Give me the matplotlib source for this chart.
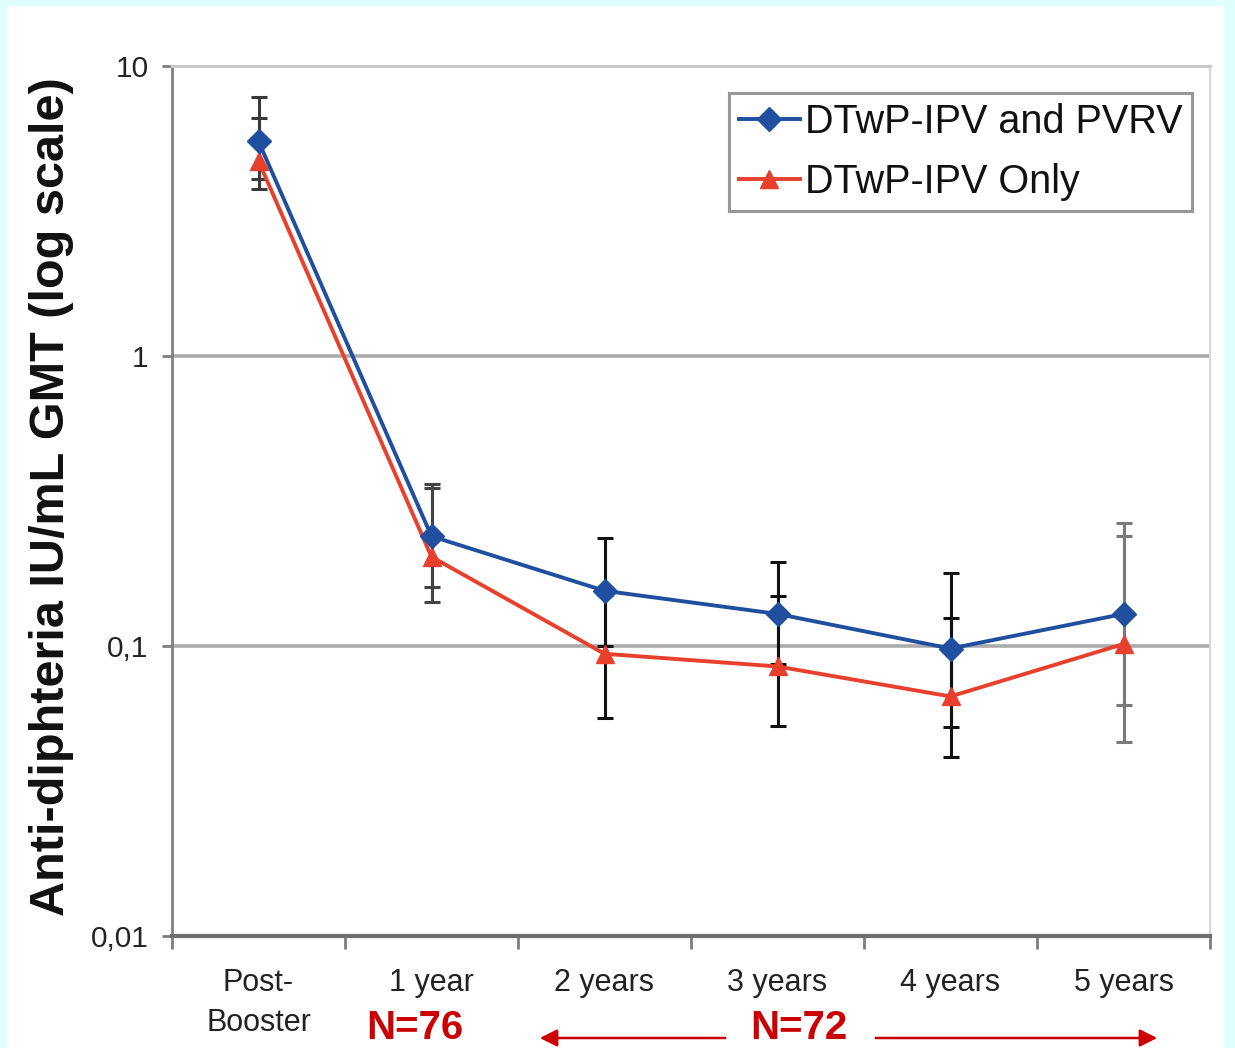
import matplotlib
matplotlib.use("Agg")
import matplotlib.pyplot as plt
from matplotlib.patches import Rectangle, FancyArrowPatch
from matplotlib.ticker import FixedLocator, FixedFormatter, NullLocator
import numpy as np

categories = ["Post-\nBooster", "1 year", "2 years", "3 years", "4 years", "5 years"]
series_names = ["DTwP-IPV and PVRV", "DTwP-IPV Only"]
pvrv_gmt = [5.5, 0.239, 0.155, 0.129, 0.098, 0.129]
pvrv_upper = [7.8, 0.362, 0.236, 0.195, 0.179, 0.265]
pvrv_lower = [4.07, 0.160, 0.100, 0.087, 0.0526, 0.0626]
only_gmt = [4.7, 0.203, 0.094, 0.085, 0.067, 0.1016]
only_upper = [6.6, 0.350, 0.150, 0.149, 0.125, 0.239]
only_lower = [3.77, 0.142, 0.0565, 0.053, 0.0414, 0.0467]
yticks = [0.01, 0.1, 1, 10]
ytick_labels = ["0,01", "0,1", "1", "10"]
n_labels = ["N=76", "N=72"]

W, H = 1235, 1048
fig = plt.figure(figsize=(W / 100, H / 100), dpi=100, facecolor="#DFFEFE")
fig.patches.append(Rectangle((7 / W, 0), (1224 - 7) / W, 1 - 6 / H,
                             transform=fig.transFigure, facecolor="white",
                             edgecolor="none", zorder=-10))

regular = ["Liberation Sans", "DejaVu Sans"]

ax = fig.add_axes([172 / W, 1 - 936 / H, (1210 - 172) / W, (936 - 66) / H])
ax.set_facecolor("none")
ax.set_yscale("log")
ax.set_ylim(0.01, 10)
ax.set_xlim(-0.5, len(categories) - 0.5)

x = np.arange(len(categories))

for v in yticks[1:3]:
    ax.axhline(v, color="#ABABAB", lw=2.6, zorder=1)

ecols = ["#3a3a3a", "#444444", "#111111", "#111111", "#111111", "#7a7a7a"]
for gmt, lo, hi in [(pvrv_gmt, pvrv_lower, pvrv_upper), (only_gmt, only_lower, only_upper)]:
    g = np.array(gmt); l = np.array(lo); h = np.array(hi)
    for i in range(len(x)):
        ax.errorbar([x[i]], [g[i]], yerr=[[g[i] - l[i]], [h[i] - g[i]]], fmt="none",
                    ecolor=ecols[i], elinewidth=2.2, capsize=5.5, capthick=2.2, zorder=2)

blue = "#1F4F9E"
red = "#E8402C"
ax.plot(x, pvrv_gmt, color=blue, lw=2.8, marker="D", ms=12, mfc=blue, mec=blue,
        label=series_names[0], zorder=4)
ax.plot(x, only_gmt, color=red, lw=2.8, marker="^", ms=13, mfc=red, mec=red,
        label=series_names[1], zorder=3)

ax.spines["top"].set_color("#C8C8C8"); ax.spines["top"].set_linewidth(2.2)
ax.spines["right"].set_color("#D8D8D8"); ax.spines["right"].set_linewidth(1.5)
ax.spines["left"].set_color("#7F7F7F"); ax.spines["left"].set_linewidth(2)
ax.spines["bottom"].set_color("#6F6F6F"); ax.spines["bottom"].set_linewidth(3)

ax.yaxis.set_major_locator(FixedLocator(yticks))
ax.yaxis.set_major_formatter(FixedFormatter(ytick_labels))
ax.yaxis.set_minor_locator(NullLocator())
ax.tick_params(axis="y", which="major", length=7, width=2, color="#7F7F7F", pad=10,
               labelsize=21.5, labelcolor="#222222")
for t in ax.get_yticklabels():
    t.set_family(regular)

ax.set_xticks(x)
ax.set_xticklabels(categories)
ax.set_xticks(np.arange(-0.5, len(categories)), minor=True)
ax.tick_params(axis="x", which="major", length=0, pad=23, labelsize=22, labelcolor="#222222")
ax.tick_params(axis="x", which="minor", length=9, width=2, color="#7F7F7F")
for t in ax.get_xticklabels():
    t.set_family(regular)
    t.set_linespacing(1.45)
    t.set_verticalalignment("top")

fig.text(52 / W, 1 - 497 / H, "Anti-diphteria IU/mL GMT (log scale)", rotation=90,
         ha="center", va="center", fontsize=35, fontweight="bold", family=regular,
         color="#111111")

leg = ax.legend(loc="upper right", bbox_to_anchor=((1192 - 172) / (1210 - 172), 1 - (93 - 66) / (936 - 66)),
                frameon=True, fancybox=False, borderpad=0.25,
                handlelength=1.55, handletextpad=0.12, labelspacing=0.55, borderaxespad=0,
                prop={"family": regular, "size": 28.5})
leg.get_frame().set_edgecolor("#7F7F7F")
leg.get_frame().set_linewidth(2.2)
for t in leg.get_texts():
    t.set_color("#111111")

nred = "#CC0000"
fig.text(415 / W, 1 - 1047 / H, n_labels[0], ha="center", va="bottom", fontsize=29,
         fontweight="bold", color=nred, family=regular)
fig.text(799 / W, 1 - 1047 / H, n_labels[1], ha="center", va="bottom", fontsize=29,
         fontweight="bold", color=nred, family=regular)
ya = 1 - 1038 / H
for x0, x1 in [(728, 537), (873, 1160)]:
    fig.patches.append(FancyArrowPatch((x0 / W, ya), (x1 / W, ya), transform=fig.transFigure,
                                       arrowstyle="-|>,head_length=7,head_width=3.5",
                                       color=nred, lw=1.8, mutation_scale=1.5))

fig.savefig("out.png", dpi=100, facecolor=fig.get_facecolor())
